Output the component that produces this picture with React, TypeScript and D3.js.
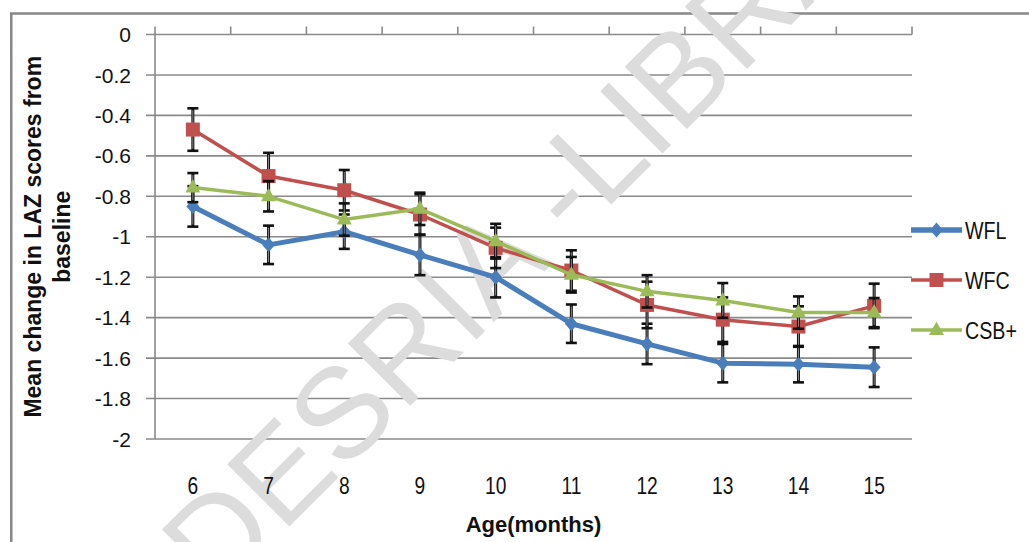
import React from "react";
import * as d3 from "d3";

const months = [6, 7, 8, 9, 10, 11, 12, 13, 14, 15];
const wfl = [-0.85, -1.04, -0.975, -1.09, -1.2, -1.43, -1.53, -1.625, -1.63, -1.645];
const wflErr = [0.1, 0.095, 0.085, 0.1, 0.1, 0.095, 0.1, 0.095, 0.09, 0.098];
const wfc = [-0.47, -0.7, -0.77, -0.89, -1.055, -1.167, -1.337, -1.41, -1.444, -1.342];
const wfcErr = [0.105, 0.115, 0.1, 0.1, 0.1, 0.1, 0.115, 0.11, 0.1, 0.11];
const csb = [-0.757, -0.8, -0.915, -0.862, -1.022, -1.188, -1.27, -1.315, -1.375, -1.375];
const csbErr = [0.072, 0.075, 0.08, 0.08, 0.086, 0.088, 0.08, 0.086, 0.08, 0.072];
const yTicks = [0, -0.2, -0.4, -0.6, -0.8, -1, -1.2, -1.4, -1.6, -1.8, -2];
const seriesNames = ["WFL", "WFC", "CSB+"];

const W = 1029;
const H = 542;
const L = 155, R = 912, T = 34.5, B = 439;

const x = d3.scaleBand<number>().domain(months).range([L, R]).padding(0);
const y = d3.scaleLinear().domain([-2, 0]).range([B, T]);
const cx = (m: number) => (x(m) as number) + x.bandwidth() / 2;

const series = [
  { name: seriesNames[0], vals: wfl, err: wflErr, color: "#4a7ebb", width: 5, marker: "diamond" },
  { name: seriesNames[1], vals: wfc, err: wfcErr, color: "#c0504d", width: 3.5, marker: "square" },
  { name: seriesNames[2], vals: csb, err: csbErr, color: "#9bbb59", width: 3.5, marker: "triangle" },
];

const SANS = "'Liberation Sans', Arial, sans-serif";

function Marker({ type, px, py, color }: { type: string; px: number; py: number; color: string }) {
  if (type === "diamond") {
    return <path d={`M${px},${py - 7.5}L${px + 6.5},${py}L${px},${py + 7.5}L${px - 6.5},${py}Z`} fill={color} />;
  }
  if (type === "square") {
    return <rect x={px - 7} y={py - 7} width={14} height={14} fill={color} />;
  }
  return <path d={`M${px},${py - 8.5}L${px + 7.5},${py + 5}L${px - 7.5},${py + 5}Z`} fill={color} />;
}

export default function App() {
  const line = d3
    .line<number>()
    .x((_, i) => cx(months[i]))
    .y((v) => y(v));
  const boundaries = d3.range(0, months.length + 1).map((k) => L + k * x.bandwidth());
  const fmt = (v: number) => String(+v.toFixed(1));
  const legendY = [230, 280, 330];
  return (
    <div style={{ position: "fixed", left: 0, top: 0 }}>
      <svg width={W} height={H} style={{ display: "block", background: "#fff" }}>
        <rect x={0} y={0} width={W} height={H} fill="#fff" />
        <rect x={11.25} y={13.5} width={1200} height={700} fill="none" stroke="#888" strokeWidth={2.5} />
        {/* gridlines */}
        {yTicks.map((t) => (
          <line key={t} x1={146} x2={R} y1={y(t)} y2={y(t)} stroke="#8a8a8a" strokeWidth={1.6} />
        ))}
        {/* watermark */}
        <g transform="translate(604,212) rotate(-45)" fill="#dcdcdc" fontFamily={SANS} fontSize={128}>
          <text textAnchor="end">CODESRIA - </text>
          <text textAnchor="start">LIBRARY</text>
        </g>
        {/* axes */}
        <line x1={L} x2={L} y1={T} y2={B} stroke="#8a8a8a" strokeWidth={1.6} />
        {boundaries.map((bx, i) => (
          <line key={i} x1={bx} x2={bx} y1={T - 8} y2={T} stroke="#8a8a8a" strokeWidth={1.6} />
        ))}
        {/* y tick labels */}
        {yTicks.map((t) => (
          <text key={t} x={131} y={y(t)} dy="0.36em" textAnchor="end" fontFamily={SANS} fontSize={21} fill="#111">
            {fmt(t)}
          </text>
        ))}
        {/* x tick labels */}
        {months.map((m) => (
          <g key={m} transform={`translate(${cx(m)},485) scale(0.8,1)`}>
            <text x={0} y={0} dy="0.36em" textAnchor="middle" fontFamily={SANS} fontSize={24} fill="#111">
              {m}
            </text>
          </g>
        ))}
        {/* axis titles */}
        <text x={(L + R) / 2} y={524} dy="0.36em" textAnchor="middle" fontFamily={SANS} fontWeight="bold" fontSize={22} fill="#111">
          Age(months)
        </text>
        <g transform={`translate(33,${(T + B) / 2}) rotate(-90)`}>
          <text x={0} y={0} dy="0.36em" textAnchor="middle" fontFamily={SANS} fontWeight="bold" fontSize={23} fill="#111">
            Mean change in LAZ scores from
          </text>
          <text x={0} y={29} dy="0.36em" textAnchor="middle" fontFamily={SANS} fontWeight="bold" fontSize={23} fill="#111">
            baseline
          </text>
        </g>
        {/* series */}
        {series.map((s) => (
          <g key={s.name}>
            <path d={line(s.vals) as string} fill="none" stroke={s.color} strokeWidth={s.width} strokeLinejoin="round" />
            {s.vals.map((v, i) => {
              const px = cx(months[i]);
              const top = y(v + s.err[i]);
              const bot = y(v - s.err[i]);
              return (
                <g key={i}>
                  <line x1={px} x2={px} y1={top} y2={bot} stroke="#111" strokeWidth={3} />
                  <line x1={px} x2={px} y1={top + 2} y2={bot - 2} stroke="#8a8a8a" strokeWidth={1} />
                  <line x1={px - 5.5} x2={px + 5.5} y1={top} y2={top} stroke="#111" strokeWidth={2.6} />
                  <line x1={px - 5.5} x2={px + 5.5} y1={bot} y2={bot} stroke="#111" strokeWidth={2.6} />
                </g>
              );
            })}
            {s.vals.map((v, i) => (
              <Marker key={i} type={s.marker} px={cx(months[i])} py={y(v)} color={s.color} />
            ))}
          </g>
        ))}
        {/* legend */}
        {series.map((s, i) => (
          <g key={s.name}>
            <line x1={911} x2={962} y1={legendY[i]} y2={legendY[i]} stroke={s.color} strokeWidth={s.name === "WFL" ? 5.5 : 3.5} />
            <Marker type={s.marker} px={936.5} py={legendY[i]} color={s.color} />
            <g transform={`translate(965,${legendY[i]}) scale(0.82,1)`}>
              <text x={0} y={0} dy="0.36em" fontFamily={SANS} fontSize={24} fill="#111">
                {s.name}
              </text>
            </g>
          </g>
        ))}
      </svg>
    </div>
  );
}
